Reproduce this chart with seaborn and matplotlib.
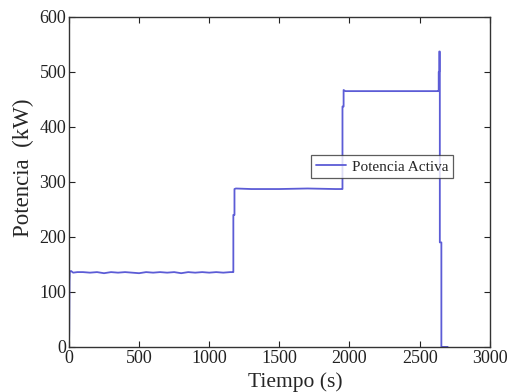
import matplotlib
matplotlib.use("Agg")
import matplotlib.pyplot as plt
import seaborn as sns
import pandas as pd

# Data (time in s, power in kW)
tiempo = [0, 2, 4, 6, 15, 30, 60, 100, 150, 200, 250, 300, 350, 400, 450, 500,
          550, 600, 650, 700, 750, 800, 850, 900, 950, 1000, 1050, 1100, 1150,
          1168, 1172, 1172, 1180, 1180, 1190, 1300, 1500, 1700, 1900, 1945,
          1950, 1950, 1958, 1958, 1970, 2100, 2300, 2500, 2630, 2636, 2636,
          2640, 2640, 2644, 2644, 2655, 2655, 2700]
potencia = [0, 30, 120, 137, 138, 135, 136, 136, 135, 136, 134, 136, 135, 136,
            135, 134, 136, 135, 136, 135, 136, 134, 136, 135, 136, 135, 136,
            135, 136, 136, 136, 240, 240, 287, 288, 287, 287, 288, 287, 287,
            287, 437, 437, 467, 465, 465, 465, 465, 465, 465, 500, 500, 537,
            537, 190, 190, 0, 0]

df = pd.DataFrame({"Tiempo": tiempo, "Potencia": potencia})

sns.set_style("white")
plt.rcParams["font.family"] = ["Liberation Serif", "DejaVu Serif"]

fig = plt.figure(figsize=(5.07, 3.92), dpi=100)
ax = fig.add_axes([0.136, 0.115, 0.83, 0.842])

sns.lineplot(data=df, x="Tiempo", y="Potencia", sort=False, estimator=None,
             color="#5c5cd6", linewidth=1.3, label="Potencia Activa", ax=ax)

ax.set_xlim(0, 3000)
ax.set_ylim(0, 600)
ax.set_xticks(range(0, 3001, 500))
ax.set_yticks(range(0, 601, 100))
ax.tick_params(direction="in", length=4, width=0.8, labelsize=13,
               top=True, right=True, bottom=True, left=True, pad=2, colors="#222222")
for s in ax.spines.values():
    s.set_visible(True)
    s.set_color("#333333")
    s.set_linewidth(1.0)

ax.set_xlabel("Tiempo (s)", fontsize=15.5)
ax.set_ylabel("Potencia  (kW)", fontsize=16.5)
ax.xaxis.set_label_coords(0.538, -0.078)
ax.yaxis.set_label_coords(-0.083, 0.544)

leg = ax.legend(loc="upper left", bbox_to_anchor=(0.575, 0.58), fontsize=11,
                frameon=True, fancybox=False, edgecolor="#333333",
                handlelength=2.0, borderpad=0.3, handletextpad=0.4,
                borderaxespad=0)
leg.get_frame().set_linewidth(0.9)

fig.savefig("out.png", dpi=100)
